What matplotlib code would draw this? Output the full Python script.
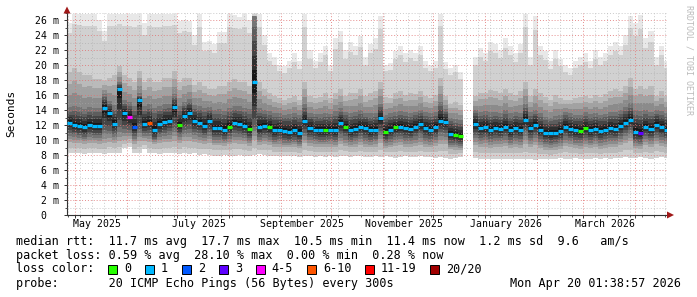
import numpy as np
import matplotlib
matplotlib.use('Agg')
import matplotlib.pyplot as plt
import matplotlib.dates as mdates
from matplotlib.ticker import MultipleLocator, FuncFormatter
from matplotlib.patches import Polygon, Rectangle

nan = np.nan

# smokeping year view, one bin = 3 days starting 26 Apr 2025
bin_start = np.datetime64('2025-04-26T00:00')
bin_days = 3
graph_end = np.datetime64('2026-04-20T01:38:57')

# median rtt per bin (ms)
median = [12.3, 12.0, 11.9, 11.7, 12.0, 11.9, 11.9, 14.3, 13.6, 12.2,
          16.8, 13.6, 13.1, 11.8, 15.3, 12.2, 12.3, 11.3, 12.1, 12.4,
          12.6, 14.4, 12.0, 13.2, 13.6, 12.5, 12.3, 11.9, 12.6, 11.6,
          11.6, 11.4, 11.8, 12.3, 12.2, 11.9, 11.5, 17.7, 11.7, 11.9,
          11.7, 11.3, 11.4, 11.2, 11.1, 11.3, 11.0, 12.6, 11.6, 11.4,
          11.3, 11.3, 11.4, 11.3, 12.3, 11.8, 11.3, 11.5, 11.8, 11.6,
          11.3, 11.4, 12.9, 11.1, 11.4, 11.7, 11.8, 11.6, 11.5, 11.8,
          12.1, 11.6, 11.4, 11.7, 12.6, 12.4, 10.8, 10.7, 10.5, nan,
          nan, 12.1, 11.6, 11.7, 11.4, 11.6, 11.5, 11.8, 11.3, 11.6,
          11.4, 12.7, 11.6, 12.0, 11.4, 11.0, 10.9, 11.0, 11.2, 11.8,
          11.5, 11.3, 11.2, 11.6, 11.3, 11.5, 11.2, 11.4, 11.6, 11.5,
          11.9, 12.3, 12.7, 11.1, 11.0, 11.8, 11.5, 12.0, 11.7, 11.4]

# lost pings (of 20) per bin
loss_pings = [1, 1, 1, 1, 1, 1, 1, 1, 1, 1,
              1, 1, 4, 2, 1, 1, 6, 1, 1, 1,
              1, 1, 0, 1, 1, 1, 1, 1, 1, 1,
              1, 1, 0, 1, 1, 1, 0, 1, 1, 1,
              0, 1, 1, 1, 1, 1, 1, 1, 1, 1,
              1, 0, 1, 1, 1, 0, 1, 1, 1, 1,
              1, 1, 1, 0, 1, 0, 1, 1, 1, 1,
              1, 1, 1, 1, 1, 1, 1, 0, 0, 0,
              0, 1, 1, 1, 1, 1, 1, 1, 1, 1,
              1, 1, 1, 1, 1, 1, 1, 1, 1, 1,
              1, 1, 0, 0, 1, 1, 1, 1, 1, 1,
              1, 1, 1, 1, 3, 1, 1, 1, 1, 1]

# smoke: ping distribution per bin (ms)
ping_max = [25.5, 26.8, 26.8, 26.8, 26.8, 26.8, 26.0, 24.5, 26.8, 26.8,
            26.8, 26.8, 26.8, 26.8, 26.8, 25.5, 26.8, 26.8, 26.8, 26.8,
            26.8, 26.8, 25.8, 26.0, 25.8, 24.0, 26.8, 23.0, 23.2, 22.8,
            24.3, 24.3, 26.8, 26.6, 26.4, 26.8, 26.0, 26.9, 26.8, 24.0,
            21.5, 21.0, 20.0, 19.8, 20.5, 21.5, 20.5, 26.8, 22.0, 20.5,
            21.5, 22.5, 20.0, 23.5, 24.5, 22.0, 23.0, 22.5, 23.8, 21.0,
            22.8, 23.5, 26.5, 20.0, 20.2, 21.8, 22.5, 21.5, 22.0, 21.5,
            22.5, 20.5, 20.0, 20.5, 26.8, 20.3, 19.5, 20.0, 19.0, nan,
            nan, 21.0, 22.2, 21.5, 23.0, 22.8, 22.0, 23.5, 22.5, 21.5,
            22.8, 26.8, 21.0, 26.5, 22.5, 21.8, 20.5, 22.0, 20.8, 20.0,
            19.5, 20.5, 21.0, 21.5, 20.5, 22.0, 21.0, 21.5, 22.5, 23.0,
            22.5, 24.0, 26.5, 25.5, 26.6, 23.5, 24.5, 21.0, 22.5, 20.5]

ping_p90 = [19.5, 20.0, 19.5, 19.0, 19.0, 18.5, 18.5, 18.0, 18.5, 19.0,
            20.0, 19.0, 18.5, 18.0, 19.5, 18.0, 18.5, 18.0, 18.0, 18.5,
            18.5, 19.5, 18.0, 18.5, 18.5, 17.5, 18.0, 17.5, 17.0, 17.0,
            17.5, 17.5, 18.0, 18.5, 18.0, 18.0, 17.5, 26.5, 18.0, 17.0,
            16.5, 16.0, 15.8, 15.5, 15.8, 16.0, 15.5, 18.0, 16.0, 15.8,
            16.0, 16.5, 15.8, 16.5, 17.0, 16.0, 16.5, 16.5, 17.0, 16.0,
            16.5, 16.8, 18.0, 16.0, 15.8, 16.5, 16.8, 16.2, 16.5, 16.3,
            16.8, 16.0, 15.8, 16.2, 18.5, 16.0, 15.0, 15.2, 14.8, nan,
            nan, 16.0, 16.5, 16.5, 17.0, 16.8, 16.5, 17.0, 16.5, 16.2,
            16.8, 18.0, 16.0, 17.0, 16.5, 16.0, 15.5, 16.2, 15.8, 15.5,
            15.5, 15.8, 16.0, 16.0, 15.8, 16.2, 16.0, 16.3, 16.8, 17.0,
            16.8, 17.5, 18.5, 17.0, 17.5, 17.0, 17.5, 16.0, 16.8, 16.0]

ping_p75 = [14.0, 14.2, 14.0, 13.8, 14.0, 14.0, 14.0, 16.0, 15.0, 14.3,
            17.5, 15.0, 14.8, 14.2, 16.0, 14.2, 14.5, 14.0, 14.2, 14.5,
            14.5, 15.8, 14.2, 14.8, 15.2, 14.5, 14.3, 14.0, 14.2, 13.8,
            13.8, 13.6, 14.0, 14.3, 14.2, 14.0, 13.8, 26.5, 14.0, 13.8,
            13.6, 13.4, 13.4, 13.2, 13.3, 13.4, 13.2, 14.5, 13.4, 13.3,
            13.3, 13.4, 13.3, 13.6, 14.0, 13.6, 13.4, 13.5, 13.7, 13.4,
            13.3, 13.4, 14.6, 13.2, 13.4, 13.5, 13.6, 13.5, 13.4, 13.6,
            13.8, 13.5, 13.4, 13.5, 14.8, 14.0, 12.8, 12.6, 12.5, nan,
            nan, 13.8, 13.5, 13.6, 13.4, 13.5, 13.4, 13.7, 13.3, 13.5,
            13.4, 14.6, 13.5, 13.8, 13.3, 12.9, 12.8, 12.9, 13.1, 13.6,
            13.4, 13.2, 13.2, 13.5, 13.3, 13.4, 13.2, 13.3, 13.5, 13.5,
            13.8, 14.2, 14.6, 13.8, 13.6, 13.7, 13.5, 13.8, 13.6, 13.4]

ping_p25 = [11.1, 10.9, 10.8, 10.6, 10.9, 10.8, 10.8, 11.6, 11.5, 11.0,
            12.0, 11.7, 11.6, 10.7, 11.8, 11.0, 11.1, 10.3, 10.9, 11.2,
            11.4, 11.9, 10.9, 11.6, 11.8, 11.3, 11.1, 10.8, 11.3, 10.5,
            10.5, 10.3, 10.7, 11.1, 11.0, 10.8, 10.4, 12.0, 10.6, 10.8,
            10.6, 10.2, 10.3, 10.1, 10.0, 10.2, 9.9, 11.2, 10.5, 10.3,
            10.2, 10.2, 10.3, 10.2, 11.0, 10.7, 10.2, 10.4, 10.7, 10.5,
            10.2, 10.3, 11.4, 10.0, 10.3, 10.6, 10.7, 10.5, 10.4, 10.7,
            11.0, 10.5, 10.3, 10.6, 11.3, 11.2, 9.8, 9.7, 9.6, nan,
            nan, 10.9, 10.5, 10.6, 10.3, 10.5, 10.4, 10.7, 10.2, 10.5,
            10.3, 11.4, 10.5, 10.9, 10.3, 9.9, 9.8, 9.9, 10.1, 10.7,
            10.4, 10.2, 10.1, 10.5, 10.2, 10.4, 10.1, 10.3, 10.5, 10.4,
            10.8, 11.2, 11.5, 10.0, 9.9, 10.7, 10.4, 10.9, 10.6, 10.4]

ping_p10 = [9.7, 9.6, 9.6, 9.5, 9.6, 9.6, 9.5, 9.6, 9.7, 9.6,
            9.8, 10.0, 10.1, 9.5, 9.8, 9.9, 9.7, 9.4, 9.6, 9.7,
            9.7, 9.9, 9.6, 9.8, 9.8, 9.7, 9.6, 9.4, 9.6, 9.3,
            9.3, 9.2, 9.4, 9.6, 9.5, 9.4, 9.2, 10.0, 9.3, 9.4,
            9.3, 9.1, 9.1, 9.0, 9.0, 9.1, 8.9, 9.6, 9.2, 9.1,
            9.1, 9.1, 9.1, 9.0, 9.4, 9.2, 9.0, 9.1, 9.3, 9.1,
            9.0, 9.1, 9.6, 8.9, 9.0, 9.2, 9.3, 9.1, 9.1, 9.2,
            9.3, 9.1, 9.0, 9.2, 9.5, 9.4, 8.8, 8.7, 8.7, nan,
            nan, 9.3, 9.1, 9.1, 8.9, 9.0, 9.0, 9.2, 8.9, 9.0,
            8.9, 9.5, 9.0, 9.3, 8.9, 8.7, 8.6, 8.7, 8.8, 9.2,
            9.0, 8.9, 8.8, 9.1, 8.9, 9.0, 8.8, 8.9, 9.1, 9.0,
            9.3, 9.6, 9.8, 8.9, 8.8, 9.3, 9.1, 9.4, 9.2, 9.0]

ping_min = [8.2, 8.3, 8.2, 8.1, 8.2, 8.3, 8.2, 8.1, 8.3, 8.2,
            8.3, 8.9, 9.0, 8.2, 8.3, 8.8, 8.2, 8.2, 8.1, 8.2,
            8.2, 8.3, 8.1, 8.2, 8.1, 8.2, 8.0, 8.1, 8.0, 7.9,
            7.9, 8.0, 7.9, 7.9, 8.0, 7.8, 7.9, 8.0, 8.1, 8.0,
            7.9, 7.8, 7.8, 7.9, 7.8, 7.8, 7.7, 7.8, 7.8, 7.7,
            7.8, 7.7, 7.8, 7.7, 7.8, 7.8, 7.7, 7.8, 7.8, 7.7,
            7.7, 7.8, 7.7, 7.8, 7.7, 7.6, 7.7, 7.8, 7.7, 7.7,
            7.8, 7.7, 7.7, 7.6, 7.7, 7.6, 7.5, 7.6, 7.7, nan,
            nan, 7.6, 7.5, 7.4, 7.5, 7.4, 7.5, 7.4, 7.5, 7.4,
            7.5, 7.4, 7.5, 7.3, 7.4, 7.5, 7.4, 7.5, 7.6, 7.5,
            7.5, 7.6, 7.5, 7.4, 7.5, 7.6, 7.5, 7.6, 7.5, 7.6,
            7.6, 7.7, 7.6, 7.6, 7.7, 7.6, 7.5, 7.6, 7.7, 7.6]

loss_bounds = [0, 1, 2, 3, 4, 6, 11, 20]
loss_labels = ['0', '1', '2', '3', '4-5', '6-10', '11-19', '20/20']
loss_colors = ['#26ff00', '#00b8ff', '#0059ff', '#5e00ff', '#ff00ff', '#ff5500', '#ff0000', '#a10000']

month_labels = ['May 2025', 'July 2025', 'September 2025', 'November 2025', 'January 2026', 'March 2026']
month_label_days = ['2025-05-14', '2025-07-14', '2025-09-14', '2025-11-14', '2026-01-14', '2026-03-14']

row_rtt = 'median rtt:  11.7 ms avg  17.7 ms max  10.5 ms min  11.4 ms now  1.2 ms sd  9.6   am/s'
row_loss = 'packet loss: 0.59 % avg  28.10 % max  0.00 % min  0.28 % now'
row_probe = 'probe:       20 ICMP Echo Pings (56 Bytes) every 300s'
stamp = 'Mon Apr 20 01:38:57 2026'

plt.rcParams['font.family'] = 'DejaVu Sans Mono'

W, H = 697, 297
fig = plt.figure(figsize=(W / 100, H / 100), dpi=100, facecolor='white')

def fx(px):
    return px / W

def fy(py):
    return 1 - py / H

ax = fig.add_axes([fx(67), fy(215), fx(667) - fx(67), fy(12.5) - fy(215)])

n = len(median)
edges = mdates.date2num(bin_start + np.arange(n + 1) * np.timedelta64(bin_days, 'D'))
YTOP = 27

# smoke shading: gray level per quantile, stepped like smokeping's layers
shade = [0.86, 0.68, 0.36, 0.06, 0.48, 0.80, 0.88]
yy = np.linspace(0, YTOP, 1081)
smoke = np.ones((len(yy), n))
for k in range(n):
    q = [ping_min[k], ping_p10[k], ping_p25[k], median[k], ping_p75[k], ping_p90[k], ping_max[k]]
    if np.isnan(q[3]):
        continue
    g = np.interp(yy, q, shade)
    g = np.round(g * 11) / 11
    g[(yy < q[0]) | (yy > q[-1])] = 1.0
    smoke[:, k] = np.clip(g, 0, 1)
ax.imshow(smoke, extent=[edges[0], edges[-1], 0, YTOP], origin='lower', aspect='auto',
          cmap='gray', vmin=0, vmax=1, interpolation='nearest', zorder=1)

med = np.asarray(median, float)
idx = np.searchsorted(loss_bounds, loss_pings, side='right') - 1
ax.hlines(med, edges[:-1], edges[1:], colors=[loss_colors[i] for i in idx], lw=2.3, zorder=3)

ax.set_xlim(mdates.date2num(graph_end) - 600 / 1.6716, mdates.date2num(graph_end))
ax.set_ylim(0, YTOP)

ax.xaxis.set_major_locator(mdates.MonthLocator())
ax.xaxis.set_minor_locator(mdates.WeekdayLocator(byweekday=mdates.SU))
ax.yaxis.set_major_locator(MultipleLocator(2))
ax.yaxis.set_minor_locator(MultipleLocator(1))
ax.yaxis.set_major_formatter(FuncFormatter(lambda v, p: '0  ' if v == 0 else '%d m' % v))
ax.tick_params(axis='x', labelbottom=False)

ax.set_axisbelow(False)
ax.grid(which='minor', color='#a8a8a8', lw=0.7, ls=(0, (1, 2)), alpha=0.6)
ax.grid(which='major', color='#e07070', lw=0.7, ls=(0, (1, 2)), alpha=0.8)

ax.tick_params(which='major', length=2.5, width=0.7, color='#333333', labelsize=7.1, pad=3)
ax.tick_params(which='minor', length=1.5, width=0.6, color='#333333')
for s in ['top', 'right']:
    ax.spines[s].set_visible(False)
for s in ['left', 'bottom']:
    ax.spines[s].set_color('#333333')
    ax.spines[s].set_linewidth(0.8)

for t, d in zip(month_labels, month_label_days):
    ax.annotate(t, xy=(mdates.date2num(np.datetime64(d)), 0), xycoords=('data', 'axes fraction'),
                xytext=(0, -6.6), textcoords='offset points', ha='center', va='center',
                fontsize=7.1, annotation_clip=False)

# axis arrows
fig.add_artist(Polygon([[fx(63.5), fy(13.5)], [fx(70.5), fy(13.5)], [fx(67), fy(6.5)]],
                       closed=True, transform=fig.transFigure, color='#a01818', lw=0))
fig.add_artist(Polygon([[fx(667), fy(211.5)], [fx(667), fy(218.5)], [fx(674), fy(215)]],
                       closed=True, transform=fig.transFigure, color='#a01818', lw=0))

fig.text(fx(11), fy(113.5), 'Seconds', rotation=90, ha='center', va='center', fontsize=8)
fig.text(fx(689), fy(60), 'RRDTOOL / TOBI OETIKER', rotation=270, ha='center', va='center',
         fontsize=6, color='#bbbbbb')

fig.text(fx(16), fy(241), row_rtt, fontsize=8.5, va='center')
fig.text(fx(16), fy(255), row_loss, fontsize=8.5, va='center')
fig.text(fx(16), fy(269), 'loss color:', fontsize=8.5, va='center')
fig.text(fx(16), fy(284), row_probe, fontsize=8.5, va='center')
fig.text(fx(681), fy(284), stamp, fontsize=8.5, va='center', ha='right')

bx = 108
for lab, col in zip(loss_labels, loss_colors):
    fig.add_artist(Rectangle((fx(bx), fy(273.5)), 9 / W, 9 / H, transform=fig.transFigure,
                             facecolor=col, edgecolor='black', lw=0.7))
    fig.text(fx(bx + 16), fy(269), lab, fontsize=8.5, va='center')
    bx += (len(lab) + 4.2) * 7.1

fig.savefig('out.png', dpi=100, facecolor='white')
